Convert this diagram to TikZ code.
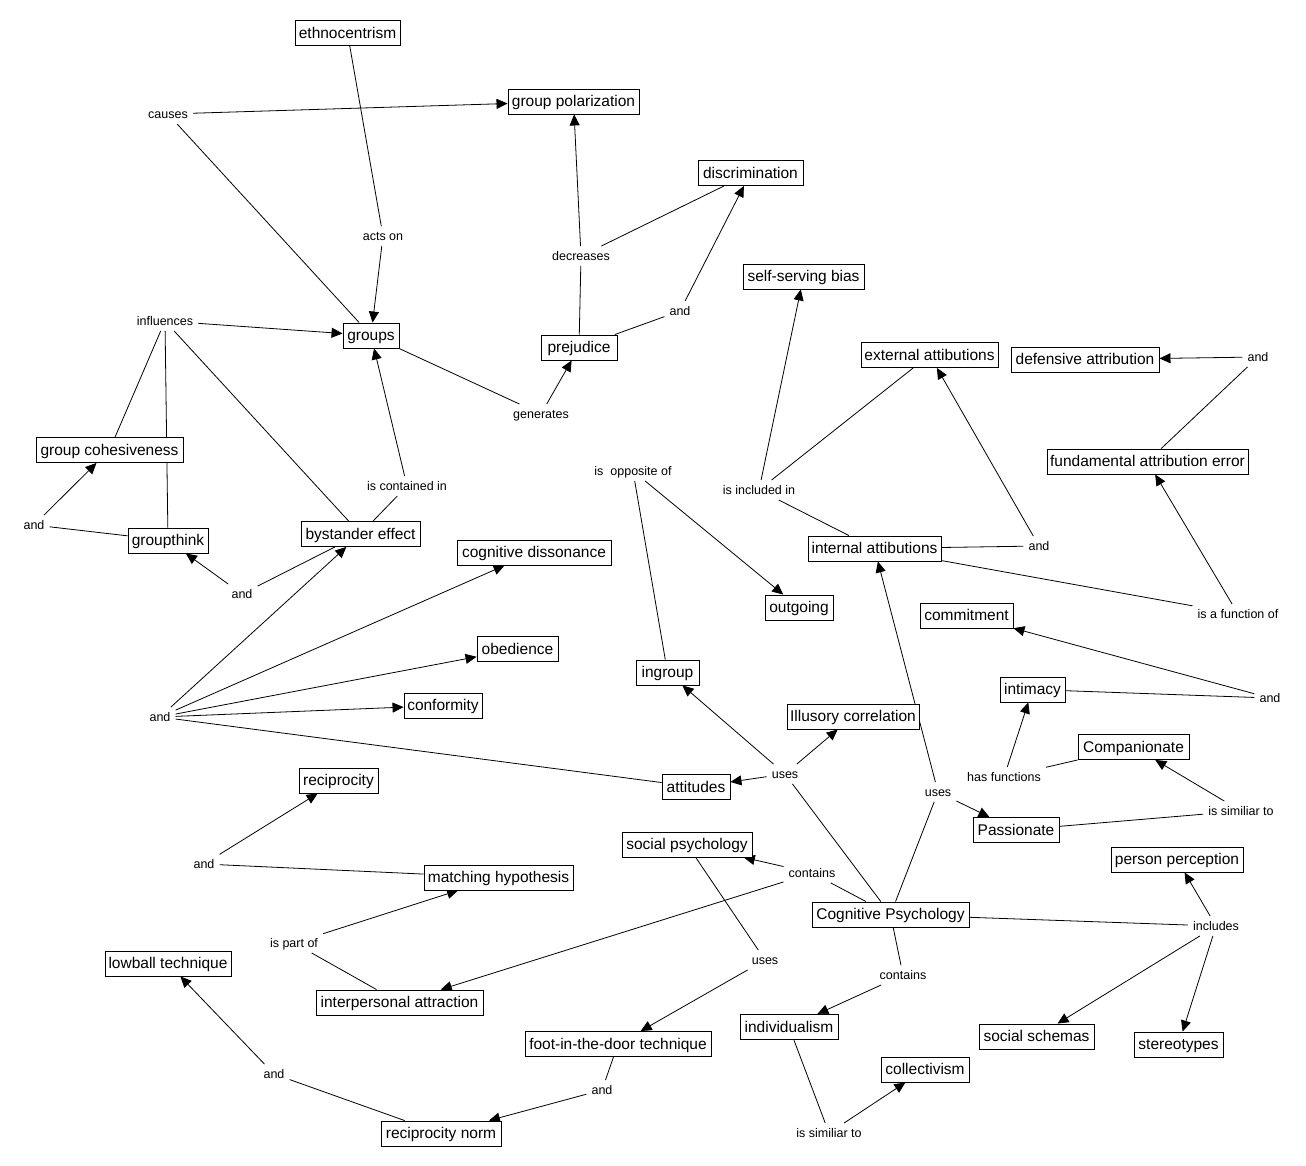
\documentclass[tikz,border=0pt]{standalone}
\usepackage{fontspec}
\setmainfont{Liberation Sans}
\usetikzlibrary{arrows.meta,backgrounds}
\begin{document}
\begin{tikzpicture}[x=1pt,y=-1pt,
 cpt/.style={draw, line width=0.9pt, fill=white, minimum width=#1, minimum height=25pt, inner sep=0pt, font=\fontsize{15.5}{18}\selectfont, text height=12.3pt, text depth=1.7pt},
 lbl/.style={inner xsep=5pt, inner ysep=4pt, font=\fontsize{12.5}{15}\selectfont, text height=10pt, text depth=1.5pt},
 ln/.style={line width=0.8pt},
 ar/.style={line width=0.8pt, -{Triangle[length=11pt,width=10pt]}}]
\useasboundingbox (0,0) rectangle (1306,1165);
% concepts
\node[cpt=105] (eth) at (347.5,33) {ethnocentrism};
\node[cpt=131] (gpol) at (573.5,101.5) {group polarization};
\node[cpt=105] (disc) at (750.5,173) {discrimination};
\node[cpt=121] (ssb) at (803.5,276.5) {self-serving bias};
\node[cpt=56] (grp) at (371,335.5) {groups};
\node[cpt=76] (prej) at (579,347.5) {prejudice};
\node[cpt=137] (ext) at (929.5,355) {external attibutions};
\node[cpt=148] (def) at (1085,359.5) {defensive attribution};
\node[cpt=201] (fae) at (1147.5,461.5) {fundamental attribution error};
\node[cpt=147] (gcoh) at (109.5,450) {group cohesiveness};
\node[cpt=80] (gthink) at (168,540.5) {groupthink};
\node[cpt=119] (byst) at (360.5,534) {bystander effect};
\node[cpt=154] (cogd) at (534,552.5) {cognitive dissonance};
\node[cpt=133] (intl) at (874.5,548.5) {internal attibutions};
\node[cpt=68] (outg) at (799,607.5) {outgoing};
\node[cpt=93] (commit) at (966.5,615.5) {commitment};
\node[cpt=81] (obed) at (517.5,649) {obedience};
\node[cpt=63] (ingr) at (667.5,672.5) {ingroup};
\node[cpt=65] (intim) at (1032.5,689.5) {intimacy};
\node[cpt=78] (conf) at (443,705.5) {conformity};
\node[cpt=132] (illus) at (853,716.5) {Illusory correlation};
\node[cpt=111] (comp) at (1133.5,747) {Companionate};
\node[cpt=79] (recip) at (338.5,780.5) {reciprocity};
\node[cpt=68] (att) at (696,787) {attitudes};
\node[cpt=86] (pass) at (1016,830) {Passionate};
\node[cpt=130] (socp) at (687,844.5) {social psychology};
\node[cpt=132] (perc) at (1177,859.5) {person perception};
\node[cpt=149] (match) at (498.5,877.5) {matching hypothesis};
\node[cpt=157] (cogp) at (890.5,914.5) {Cognitive Psychology};
\node[cpt=126] (lowb) at (168,963.5) {lowball technique};
\node[cpt=167] (inter) at (399.5,1002.5) {interpersonal attraction};
\node[cpt=98] (indiv) at (789,1027) {individualism};
\node[cpt=115] (schem) at (1036.5,1036.5) {social schemas};
\node[cpt=89] (stereo) at (1178.5,1044.5) {stereotypes};
\node[cpt=186] (foot) at (618,1044) {foot-in-the-door technique};
\node[cpt=88] (coll) at (925,1069.5) {collectivism};
\node[cpt=120] (rnorm) at (441,1133.5) {reciprocity norm};
% linking phrases
\node[lbl] (lcauses) at (168,114) {causes};
\node[lbl] (lactson) at (383,236) {acts on};
\node[lbl] (ldecr) at (581,256) {decreases};
\node[lbl] (land1) at (680,311) {and};
\node[lbl] (linfl) at (165,321) {influences};
\node[lbl] (lgen) at (541,414) {generates};
\node[lbl] (lopp) at (633,471) {is\ \ opposite of};
\node[lbl] (lincl) at (759,490) {is included in};
\node[lbl] (lcont) at (407,486) {is contained in};
\node[lbl] (land2) at (1258,357) {and};
\node[lbl] (land3) at (34,525) {and};
\node[lbl] (land4) at (242,594) {and};
\node[lbl] (land5) at (1039,546) {and};
\node[lbl] (lfunc) at (1238,614) {is a function of};
\node[lbl] (land6) at (160,717) {and};
\node[lbl] (land7) at (1270,698) {and};
\node[lbl] (luses1) at (785,774) {uses};
\node[lbl] (lhasf) at (1004,777) {has functions};
\node[lbl] (luses2) at (938,792) {uses};
\node[lbl] (lsim1) at (1241,811) {is similiar to};
\node[lbl] (land8) at (204,864) {and};
\node[lbl] (lcont1) at (812,873) {contains};
\node[lbl] (lincs) at (1216,926) {includes};
\node[lbl] (lpart) at (294,943) {is part of};
\node[lbl] (luses3) at (765,960) {uses};
\node[lbl] (lcont2) at (903,975) {contains};
\node[lbl] (land9) at (274,1074) {and};
\node[lbl] (land10) at (602,1090) {and};
\node[lbl] (lsim2) at (829,1133) {is similiar to};
\begin{pgfonlayer}{background}
\fill[white] (0,0) rectangle (1306,1165);
\draw[ln] (eth) -- (lactson); \draw[ar] (lactson) -- (grp);
\draw[ln] (grp) -- (lcauses); \draw[ar] (lcauses) -- (gpol);
\draw[ln] (prej) -- (ldecr); \draw[ln] (disc) -- (ldecr); \draw[ar] (ldecr) -- (gpol);
\draw[ln] (prej) -- (land1); \draw[ar] (land1) -- (disc);
\draw[ar] (linfl) -- (grp); \draw[ln] (linfl) -- (gcoh); \draw[ln] (linfl) -- (gthink); \draw[ln] (linfl) -- (byst);
\draw[ln] (grp) -- (lgen); \draw[ar] (lgen) -- (prej);
\draw[ln] (byst) -- (lcont); \draw[ar] (lcont) -- (grp);
\draw[ln] (gthink) -- (land3); \draw[ar] (land3) -- (gcoh);
\draw[ln] (byst) -- (land4); \draw[ar] (land4) -- (gthink);
\draw[ln] (att) -- (land6);
\draw[ar] (land6) -- (byst); \draw[ar] (land6) -- (cogd); \draw[ar] (land6) -- (obed); \draw[ar] (land6) -- (conf);
\draw[ln] (ingr) -- (lopp); \draw[ar] (lopp) -- (outg);
\draw[ln] (intl) -- (lincl); \draw[ln] (ext) -- (lincl); \draw[ar] (lincl) -- (ssb);
\draw[ln] (intl) -- (land5); \draw[ar] (land5) -- (ext);
\draw[ln] (intl) -- (lfunc); \draw[ar] (lfunc) -- (fae);
\draw[ln] (fae) -- (land2); \draw[ar] (land2) -- (def);
\draw[ln] (intim) -- (land7); \draw[ar] (land7) -- (commit);
\draw[ln] (cogp) -- (luses1); \draw[ar] (luses1) -- (att); \draw[ar] (luses1) -- (ingr); \draw[ar] (luses1) -- (illus);
\draw[ln] (cogp) -- (luses2); \draw[ar] (luses2) -- (intl); \draw[ar] (luses2) -- (pass);
\draw[ln] (comp) -- (lhasf); \draw[ar] (lhasf) -- (intim);
\draw[ln] (pass) -- (lsim1); \draw[ar] (lsim1) -- (comp);
\draw[ln] (cogp) -- (lcont1); \draw[ar] (lcont1) -- (socp); \draw[ar] (lcont1) -- (inter);
\draw[ln] (cogp) -- (lincs); \draw[ar] (lincs) -- (perc); \draw[ar] (lincs) -- (schem); \draw[ar] (lincs) -- (stereo);
\draw[ln] (cogp) -- (lcont2); \draw[ar] (lcont2) -- (indiv);
\draw[ln] (indiv) -- (lsim2); \draw[ar] (lsim2) -- (coll);
\draw[ln] (socp) -- (luses3); \draw[ar] (luses3) -- (foot);
\draw[ln] (foot) -- (land10); \draw[ar] (land10) -- (rnorm);
\draw[ln] (rnorm) -- (land9); \draw[ar] (land9) -- (lowb);
\draw[ln] (inter) -- (lpart); \draw[ar] (lpart) -- (match);
\draw[ln] (match) -- (land8); \draw[ar] (land8) -- (recip);
\end{pgfonlayer}
\end{tikzpicture}
\end{document}
